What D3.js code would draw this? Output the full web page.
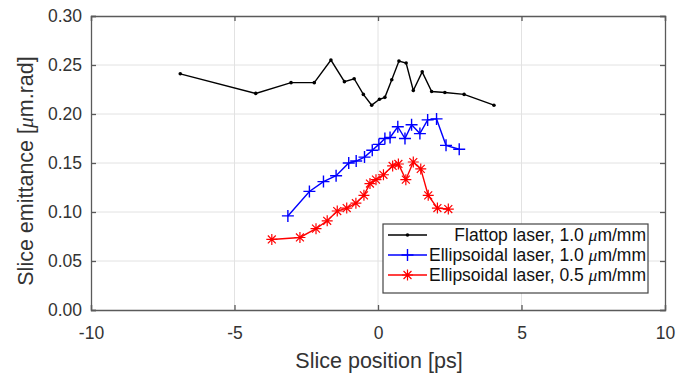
<!DOCTYPE html>
<html><head><meta charset="utf-8">
<script src="https://cdn.jsdelivr.net/npm/d3@7"></script>
<style>body{margin:0;background:#fff}svg{display:block;font-family:"Liberation Sans",Arial,sans-serif}</style>
</head><body><svg id="c" width="681" height="376"></svg>
<script>
const xTicks = [-10, -5, 0, 5, 10];
const yTicks = [0, 0.05, 0.10, 0.15, 0.20, 0.25, 0.30];
const flatX = [-6.89, -4.26, -3.03, -2.22, -1.64, -1.17, -0.83, -0.51, -0.22, 0.05, 0.24, 0.48, 0.73, 0.98, 1.23, 1.54, 1.87, 2.33, 3.0, 4.04];
const flatY = [0.241, 0.221, 0.232, 0.232, 0.255, 0.233, 0.236, 0.220, 0.209, 0.215, 0.217, 0.235, 0.254, 0.252, 0.224, 0.243, 0.223, 0.222, 0.220, 0.209];
const ell1X = [-3.14, -2.39, -1.90, -1.46, -1.02, -0.76, -0.47, -0.20, 0.03, 0.24, 0.42, 0.69, 0.94, 1.17, 1.46, 1.73, 2.04, 2.37, 2.83];
const ell1Y = [0.096, 0.121, 0.131, 0.137, 0.150, 0.152, 0.156, 0.163, 0.169, 0.175, 0.176, 0.187, 0.175, 0.189, 0.180, 0.194, 0.195, 0.168, 0.164];
const ell05X = [-3.70, -2.72, -2.16, -1.77, -1.42, -1.09, -0.77, -0.49, -0.28, -0.07, 0.19, 0.51, 0.71, 0.97, 1.23, 1.49, 1.75, 2.07, 2.45];
const ell05Y = [0.072, 0.074, 0.083, 0.091, 0.101, 0.104, 0.109, 0.117, 0.129, 0.133, 0.138, 0.147, 0.149, 0.133, 0.151, 0.144, 0.117, 0.104, 0.103];
const legendLabels = ["Flattop laser, 1.0 ", "Ellipsoidal laser, 1.0 ", "Ellipsoidal laser, 0.5 "];
const colors = ["#000000", "#0000ff", "#ff0000"];

const svg = d3.select("#c");
const L = 91, R = 665, T = 16, B = 310;
const x = d3.scaleLinear().domain([-10, 10]).range([L, R]);
const y = d3.scaleLinear().domain([0, 0.30]).range([B, T]);

// grid
const g = svg.append("g");
g.selectAll(".gx").data(xTicks.slice(1, -1)).join("line")
  .attr("x1", d => x(d)).attr("x2", d => x(d)).attr("y1", T).attr("y2", B)
  .attr("stroke", "#e2e2e2").attr("stroke-width", 1);
g.selectAll(".gy").data(yTicks.slice(1, -1)).join("line")
  .attr("y1", d => y(d)).attr("y2", d => y(d)).attr("x1", L).attr("x2", R)
  .attr("stroke", "#e2e2e2").attr("stroke-width", 1);

// axes
const axCol = "#5a5a5a";
const fontStack = '"Liberation Sans",Arial,sans-serif';
svg.append("g").attr("transform", `translate(0,${B})`)
  .call(d3.axisBottom(x).tickValues(xTicks).tickSize(-5).tickPadding(16.5).tickFormat(d => String(d)));
svg.append("g").attr("transform", `translate(${L},0)`)
  .call(d3.axisLeft(y).tickValues(yTicks).tickSize(-5).tickPadding(9).tickFormat(d3.format(".2f")));
svg.append("g").attr("transform", `translate(0,${T})`)
  .call(d3.axisTop(x).tickValues(xTicks).tickSize(-5).tickFormat(""));
svg.append("g").attr("transform", `translate(${R},0)`)
  .call(d3.axisRight(y).tickValues(yTicks).tickSize(-5).tickFormat(""));
svg.selectAll(".domain, .tick line").attr("stroke", axCol).attr("stroke-width", 1.3);
svg.selectAll(".tick text").attr("fill", "#333").style("font-size", "17.5px").style("font-family", fontStack);

// lines
const line = d3.line().x(d => x(d[0])).y(d => y(d[1]));
const series = [
  {xs: flatX, ys: flatY, c: colors[0], m: "dot"},
  {xs: ell1X, ys: ell1Y, c: colors[1], m: "plus"},
  {xs: ell05X, ys: ell05Y, c: colors[2], m: "star"}
];
function marker(sel, type, c) {
  if (type === "dot") {
    sel.append("circle").attr("r", 1.8).attr("fill", c);
  } else if (type === "plus") {
    sel.append("path").attr("d", "M-6,0H6M0,-6V6").attr("stroke", c).attr("stroke-width", 1.4).attr("fill", "none");
  } else {
    const s = 5.5, d = s * 0.72;
    sel.append("path").attr("d", `M-${s},0H${s}M0,-${s}V${s}M-${d},-${d}L${d},${d}M-${d},${d}L${d},-${d}`)
      .attr("stroke", c).attr("stroke-width", 1.2).attr("fill", "none");
  }
}
series.forEach(s => {
  const pts = s.xs.map((v, i) => [v, s.ys[i]]);
  svg.append("path").datum(pts).attr("d", line).attr("fill", "none").attr("stroke", s.c).attr("stroke-width", 1.4);
  pts.forEach(p => {
    const m = svg.append("g").attr("transform", `translate(${x(p[0])},${y(p[1])})`);
    marker(m, s.m, s.c);
  });
});

// legend
const lg = svg.append("g");
lg.append("rect").attr("x", 383).attr("y", 224).attr("width", 265).attr("height", 69)
  .attr("fill", "#fff").attr("stroke", "#444").attr("stroke-width", 1.2);
legendLabels.forEach((t, i) => {
  const yy = 235 + i * 20;
  lg.append("line").attr("x1", 388).attr("x2", 427).attr("y1", yy).attr("y2", yy).attr("stroke", colors[i]).attr("stroke-width", 1.4);
  const m = lg.append("g").attr("transform", `translate(407.5,${yy})`);
  marker(m, series[i].m, colors[i]);
  const tx = lg.append("text").attr("x", 646).attr("y", yy + 6).attr("text-anchor", "end")
    .style("font-size", "17.5px").attr("fill", "#111");
  tx.append("tspan").text(t);
  tx.append("tspan").attr("font-style", "italic").attr("font-family", '"Liberation Serif",serif').text("\u03bc");
  tx.append("tspan").text("m/mm");
});

// axis labels
svg.append("text").attr("x", 379).attr("y", 368).attr("text-anchor", "middle")
  .style("font-size", "21.5px").attr("fill", "#333").text("Slice position [ps]");
const yl = svg.append("text").attr("transform", `translate(33,171) rotate(-90)`).attr("text-anchor", "middle")
  .style("font-size", "21.5px").attr("fill", "#333");
yl.append("tspan").text("Slice emittance [");
yl.append("tspan").attr("font-style", "italic").attr("font-family", '"Liberation Serif",serif').text("\u03bc");
yl.append("tspan").text("m.rad]");
</script></body></html>
